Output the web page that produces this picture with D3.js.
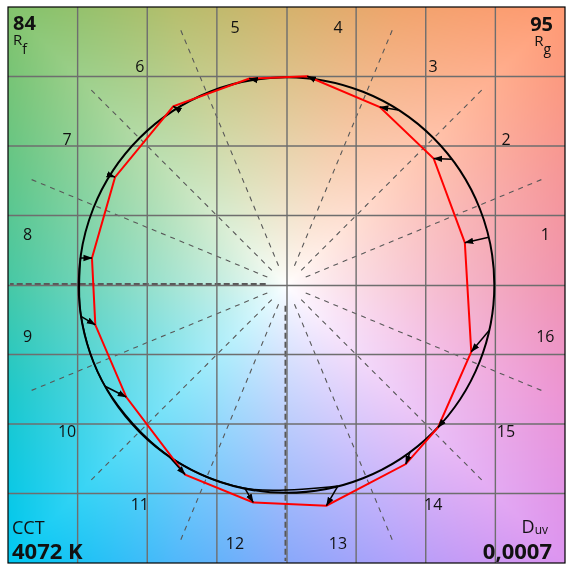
<!DOCTYPE html>
<html>
<head>
<meta charset="utf-8">
<script src="https://cdn.jsdelivr.net/npm/d3@7"></script>
<style>
  html, body { margin: 0; padding: 0; background: #fff; }
  #wrap { position: relative; width: 573px; height: 571px; overflow: hidden; }
  canvas, svg { position: absolute; left: 0; top: 0; }
  text { font-family: "Open Sans", "Noto Sans", sans-serif; fill: #111; }
</style>
</head>
<body>
<div id="wrap"></div>
<script>
// ---------- data ----------
const hueBins = ["1","2","3","4","5","6","7","8","9","10","11","12","13","14","15","16"];
// reference (arrow start) hue angles, degrees, on the unit circle
const refAngles = [13.3, 37.3, 57.5, 82.2, 98.5, 121.8, 148.1, 172.5, 188.7, 209.2, 235.3, 258.4, 284.3, 306.5, 318.5, 347.4];
// test (arrow end) coordinates, normalised to the reference circle
const testX = [0.858, 0.708, 0.449, 0.100, -0.179, -0.545, -0.825, -0.936, -0.920, -0.771, -0.488, -0.160, 0.192, 0.574, 0.729, 0.889];
const testY = [0.204, 0.610, 0.858, 1.006, 0.995, 0.861, 0.520, 0.130, -0.192, -0.540, -0.914, -1.048, -1.064, -0.863, -0.687, -0.322];
const gridTicks = [-1.34, -1.005, -0.67, -0.335, 0, 0.335, 0.67, 1.005, 1.34];
const binEdges = d3.range(0, 360, 22.5);
const Rf = "84", Rg = "95", CCT = "4072 K", Duv = "0,0007";

// ---------- layout ----------
const W = 573, H = 571;
const L = 8, R = 565, T = 7, B = 563;
const x = d3.scaleLinear().domain([-1.34, 1.34]).range([L, R]);
const y = d3.scaleLinear().domain([-1.34, 1.34]).range([B, T]);
const rad = d => d * Math.PI / 180;

const wrap = d3.select("#wrap");

// ---------- background hue gradient (canvas) ----------
const anchors = [
  [240,148,176],[246,150,150],[255,154,114],[240,164,108],
  [212,178,108],[180,190,108],[130,195,108],[ 98,198,135],
  [ 70,200,165],[ 28,200,204],[  0,200,242],[ 78,184,250],
  [136,168,250],[178,160,250],[220,148,240],[236,148,212]
];
const canvas = wrap.append("canvas").attr("width", W).attr("height", H).node();
const ctx = canvas.getContext("2d");
const img = ctx.createImageData(R - L, B - T);
const cx = x(0), cy = y(0), half = (R - L) / 2;
for (let py = 0; py < B - T; py++) {
  for (let px = 0; px < R - L; px++) {
    const dx = px + L + 0.5 - cx, dy = cy - (py + T + 0.5);
    const r = Math.hypot(dx, dy);
    let th = Math.atan2(dy, dx) * 180 / Math.PI; if (th < 0) th += 360;
    const i = Math.floor(th / 22.5) % 16, f = th / 22.5 - Math.floor(th / 22.5);
    const a = anchors[i], b = anchors[(i + 1) % 16];
    const c = Math.max(Math.abs(Math.cos(rad(th))), Math.abs(Math.sin(rad(th))));
    const rEdge = half / c;
    const t = Math.min(1, Math.pow(r / rEdge, 0.8));
    const k = (py * (R - L) + px) * 4;
    for (let ch = 0; ch < 3; ch++) {
      const col = a[ch] + (b[ch] - a[ch]) * f;
      img.data[k + ch] = 255 + (col - 255) * t;
    }
    img.data[k + 3] = 255;
  }
}
ctx.putImageData(img, L, T);

// ---------- svg ----------
const svg = wrap.append("svg").attr("width", W).attr("height", H);

svg.append("defs").append("marker")
  .attr("id", "ah").attr("viewBox", "0 -4 9 8")
  .attr("refX", 8.5).attr("refY", 0)
  .attr("markerWidth", 9).attr("markerHeight", 8)
  .attr("markerUnits", "userSpaceOnUse")
  .attr("orient", "auto")
  .append("path").attr("d", "M0,-3.2L9,0L0,3.2Z").attr("fill", "#000");

// radial dashed bin boundaries (0° and 90° lie under the solid centre grid lines)
const radial = svg.append("g");
radial.selectAll("line").data(binEdges.filter(a => a !== 0 && a !== 90)).join("line")
  .attr("x1", a => x(0.1 * Math.cos(rad(a))) - (a === 270 ? 1 : 0))
  .attr("y1", a => y(0.1 * Math.sin(rad(a))) - (a === 180 ? 1 : 0))
  .attr("x2", a => x(1.33 * Math.cos(rad(a))) - (a === 270 ? 1 : 0))
  .attr("y2", a => y(1.33 * Math.sin(rad(a))) - (a === 180 ? 1 : 0))
  .attr("stroke", "#585858")
  .attr("stroke-width", a => (a % 90 === 0 ? 2 : 1.1))
  .attr("stroke-dasharray", a => (a % 90 === 0 ? "6,3" : "5,5"));

// grid
const inner = gridTicks.slice(1, -1);
svg.append("g").selectAll("line").data(inner).join("line")
  .attr("x1", d => x(d) + (d === 0 ? 0.5 : 0)).attr("x2", d => x(d) + (d === 0 ? 0.5 : 0))
  .attr("y1", T).attr("y2", B)
  .attr("stroke", "#6e6e6e").attr("stroke-width", 1.4);
svg.append("g").selectAll("line").data(inner).join("line")
  .attr("y1", d => y(d) + (d === 0 ? 0.5 : 0)).attr("y2", d => y(d) + (d === 0 ? 0.5 : 0))
  .attr("x1", L).attr("x2", R)
  .attr("stroke", "#6e6e6e").attr("stroke-width", 1.4);

// reference circle
svg.append("circle").attr("cx", x(0)).attr("cy", y(0)).attr("r", x(1) - x(0))
  .attr("fill", "none").attr("stroke", "#000").attr("stroke-width", 2);

// reference curve through reference points (visible in bins 9–12)
const refPts = refAngles.map(a => [x(Math.cos(rad(a))), y(Math.sin(rad(a)))]);
svg.append("path").attr("d", d3.line().curve(d3.curveCatmullRom.alpha(0.5))(refPts.slice(7, 13)))
  .attr("fill", "none").attr("stroke", "#000").attr("stroke-width", 1.5);

// test polygon
const testPts = testX.map((v, i) => [x(v), y(testY[i])]);
svg.append("path").attr("d", d3.line().curve(d3.curveLinearClosed)(testPts))
  .attr("fill", "none").attr("stroke", "#ff0000").attr("stroke-width", 2);

// arrows
svg.append("g").selectAll("line").data(hueBins).join("line")
  .attr("x1", (d, i) => refPts[i][0]).attr("y1", (d, i) => refPts[i][1])
  .attr("x2", (d, i) => testPts[i][0]).attr("y2", (d, i) => testPts[i][1])
  .attr("stroke", "#000").attr("stroke-width", 1.5)
  .attr("marker-end", "url(#ah)");

// bin labels
svg.append("g").selectAll("text").data(hueBins).join("text")
  .attr("x", (d, i) => x(1.27 * Math.cos(rad(11.25 + 22.5 * i))))
  .attr("y", (d, i) => y(1.27 * Math.sin(rad(11.25 + 22.5 * i))))
  .attr("text-anchor", "middle").attr("dominant-baseline", "central")
  .attr("font-size", 16).text(d => d);

// frame
svg.append("rect").attr("x", L).attr("y", T).attr("width", R - L).attr("height", B - T)
  .attr("fill", "none").attr("stroke", "#000").attr("stroke-width", 1.2);

// corner metrics
svg.append("text").attr("x", 13).attr("y", 30).attr("font-size", 20).attr("font-weight", "bold").text(Rf);
const rf = svg.append("text").attr("x", 13).attr("y", 45).attr("font-size", 15);
rf.append("tspan").text("R");
rf.append("tspan").attr("dy", 9).attr("font-size", 14).text("f");

svg.append("text").attr("x", 553).attr("y", 31).attr("text-anchor", "end").attr("font-size", 20).attr("font-weight", "bold").text(Rg);
const rg = svg.append("text").attr("x", 551).attr("y", 46).attr("text-anchor", "end").attr("font-size", 15);
rg.append("tspan").text("R");
rg.append("tspan").attr("dy", 8).attr("font-size", 14).text("g");

svg.append("text").attr("x", 12).attr("y", 534).attr("font-size", 18).text("CCT");
svg.append("text").attr("x", 12).attr("y", 559).attr("font-size", 22).attr("font-weight", "bold").text(CCT);

const du = svg.append("text").attr("x", 548).attr("y", 533).attr("text-anchor", "end").attr("font-size", 18);
du.append("tspan").text("D");
du.append("tspan").attr("font-size", 12).attr("dy", 1).text("uv");
svg.append("text").attr("x", 552).attr("y", 559).attr("text-anchor", "end").attr("font-size", 22).attr("font-weight", "bold").text(Duv);
</script>
</body>
</html>
